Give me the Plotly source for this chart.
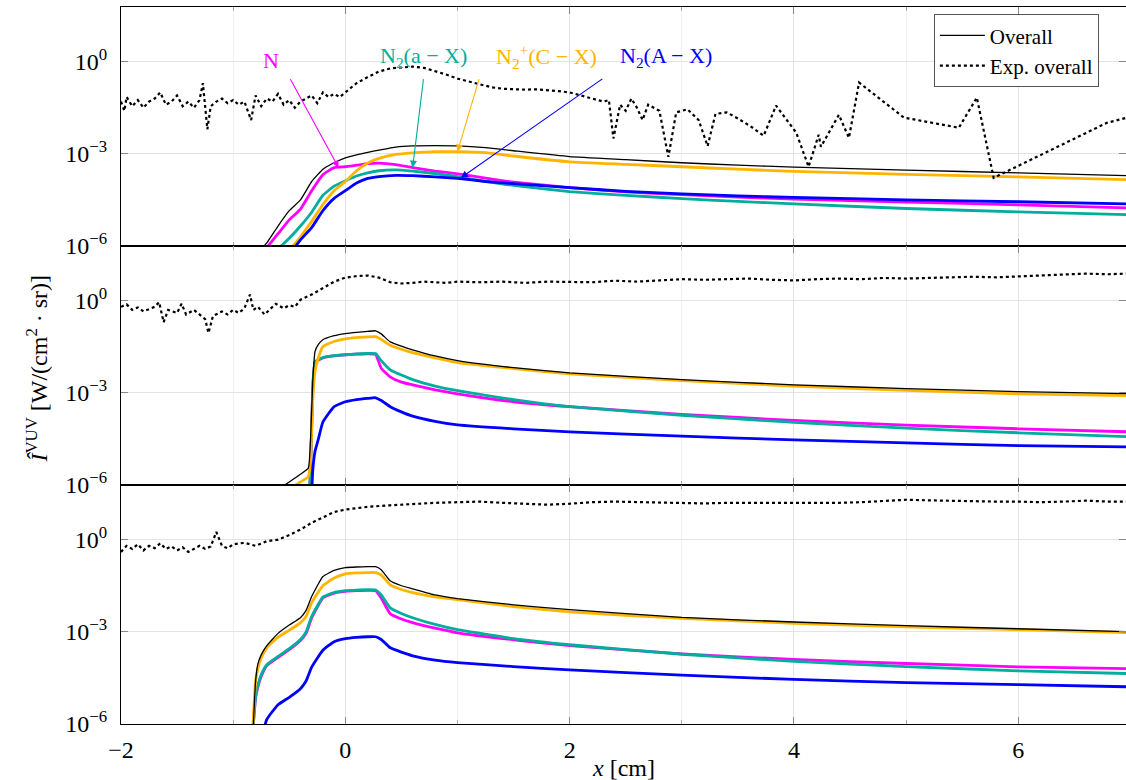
import plotly.graph_objects as go
from plotly.subplots import make_subplots

# ---------------- data (stored as log10 of intensity) -------------
# Top panel
x_top = [-0.8, -0.7, -0.6, -0.5, -0.4, -0.3, -0.2, -0.1, 0.0, 0.1, 0.2, 0.3, 0.45, 0.6, 0.8,
         1.0, 1.25, 1.5, 2.0, 2.5, 3.0, 3.5, 4.0, 5.0, 6.0, 7.0]
top_overall = [-6.3, -5.9, -5.35, -4.85, -4.5, -3.9, -3.5, -3.29, -3.13, -3.03, -2.95, -2.88, -2.78,
               -2.74, -2.73, -2.74, -2.8, -2.9, -3.09, -3.19, -3.29, -3.37, -3.43, -3.53, -3.62, -3.71]
top_N = [-6.5, -6.05, -5.6, -5.15, -4.8, -4.2, -3.68, -3.45, -3.42, -3.37, -3.32, -3.3, -3.35,
         -3.45, -3.56, -3.65, -3.79, -3.92, -4.1, -4.24, -4.33, -4.41, -4.47, -4.57, -4.66, -4.76]
top_N2aX = [None, None, -6.1, -5.75, -5.35, -4.9, -4.35, -4.05, -3.88, -3.72, -3.62, -3.55, -3.52,
            -3.56, -3.64, -3.74, -3.9, -4.03, -4.23, -4.35, -4.46, -4.55, -4.63, -4.78, -4.89, -4.98]
top_N2pCX = [None, None, -6.6, -6.15, -5.7, -5.2, -4.65, -4.2, -3.9, -3.55, -3.3, -3.15, -3.02,
             -2.97, -2.93, -2.93, -2.96, -3.07, -3.26, -3.34, -3.42, -3.5, -3.57, -3.67, -3.75, -3.84]
top_N2AX = [None, None, None, -6.3, -5.8, -5.4, -4.85, -4.45, -4.2, -3.95, -3.8, -3.74, -3.7,
            -3.71, -3.75, -3.8, -3.9, -3.97, -4.1, -4.22, -4.3, -4.37, -4.42, -4.5, -4.56, -4.63]
top_exp_x = [-2.0, -1.97, -1.95, -1.9, -1.85, -1.8, -1.75, -1.7, -1.65, -1.6, -1.55, -1.5, -1.45,
             -1.4, -1.35, -1.3, -1.27, -1.23, -1.2, -1.15, -1.1, -1.05, -1.0, -0.95, -0.9, -0.84,
             -0.8, -0.75, -0.7, -0.65, -0.6, -0.55, -0.5, -0.45, -0.4, -0.35, -0.3, -0.25, -0.2,
             -0.15, -0.1, -0.05, 0.0, 0.1, 0.2, 0.3, 0.4, 0.5, 0.6, 0.7, 0.8, 0.9, 1.0, 1.1, 1.2,
             1.3, 1.4, 1.5, 1.6, 1.7, 1.8, 1.9, 2.0, 2.1, 2.2, 2.3, 2.35, 2.39, 2.45, 2.5, 2.55,
             2.6, 2.65, 2.7, 2.8, 2.88, 2.95, 3.05, 3.15, 3.23, 3.3, 3.4, 3.5, 3.62, 3.73, 3.84,
             4.02, 4.13, 4.22, 4.24, 4.4, 4.49, 4.58, 4.98, 5.47, 5.63, 5.78, 6.79, 6.97]
top_exp = [-1.3, -1.6, -1.15, -1.45, -1.25, -1.5, -1.3, -1.2, -1.0, -1.4, -1.3, -1.1, -1.45,
           -1.3, -1.5, -1.25, -0.7, -2.2, -1.45, -1.3, -1.2, -1.35, -1.25, -1.4, -1.3, -1.9,
           -1.1, -1.45, -1.2, -1.3, -1.05, -1.4, -1.25, -1.5, -1.3, -1.2, -1.1, -1.35, -1.0,
           -1.15, -1.05, -1.15, -1.0, -0.7, -0.5, -0.32, -0.22, -0.18, -0.16, -0.2, -0.3, -0.42,
           -0.55, -0.65, -0.75, -0.83, -0.88, -0.9, -0.91, -0.9, -0.92, -0.96, -1.0, -1.1, -1.2,
           -1.3, -1.25, -2.5, -1.4, -1.6, -1.2, -1.5, -1.9, -1.4, -1.6, -3.1, -1.65, -1.55, -1.9,
           -2.75, -1.7, -1.65, -1.85, -2.12, -2.41, -1.43, -2.31, -3.42, -2.38, -2.77, -1.73,
           -2.48, -0.68, -1.82, -2.15, -1.17, -3.78, -1.99, -1.82]

# Middle panel
x_mid = [-0.6, -0.5, -0.4, -0.33, -0.31, -0.29, -0.27, -0.24, -0.2, -0.1, 0.0, 0.1, 0.2, 0.27,
         0.32, 0.4, 0.5, 0.6, 0.8, 1.0, 1.5, 2.0, 3.0, 4.0, 5.0, 6.0, 7.0]
mid_overall = [-6.15, -5.9, -5.65, -5.45, -4.5, -2.6, -1.65, -1.42, -1.27, -1.14, -1.07, -1.03,
               -1.0, -0.98, -1.08, -1.34, -1.48, -1.6, -1.8, -1.95, -2.18, -2.35, -2.57, -2.74,
               -2.86, -2.96, -3.03]
mid_N = [None, None, None, -7.0, -5.5, -2.8, -2.0, -1.93, -1.86, -1.8, -1.76, -1.74, -1.73,
         -1.75, -2.2, -2.48, -2.65, -2.74, -2.9, -3.03, -3.29, -3.45, -3.7, -3.9, -4.05,
         -4.17, -4.27]
mid_N2aX = [None, None, None, -7.0, -5.5, -2.75, -1.98, -1.92, -1.85, -1.79, -1.76, -1.73,
            -1.72, -1.72, -1.95, -2.25, -2.42, -2.57, -2.78, -2.93, -3.22, -3.45, -3.73, -3.96,
            -4.15, -4.3, -4.43]
mid_N2pCX = [None, -6.15, -5.9, -5.73, -5.2, -3.2, -2.3, -1.85, -1.5, -1.33, -1.24, -1.2, -1.18,
             -1.17, -1.26, -1.45, -1.58, -1.69, -1.86, -2.02, -2.21, -2.38, -2.6, -2.78, -2.92,
             -3.03, -3.09]
mid_N2AX = [None, None, None, -7.5, -7.0, -5.5, -4.9, -4.5, -3.95, -3.45, -3.29, -3.22, -3.18,
            -3.16, -3.25, -3.45, -3.62, -3.76, -3.93, -4.04, -4.17, -4.27, -4.41, -4.53, -4.63,
            -4.72, -4.76]
mid_exp_x = [-2.0, -1.95, -1.9, -1.85, -1.8, -1.75, -1.7, -1.66, -1.62, -1.58, -1.5, -1.46,
             -1.42, -1.35, -1.3, -1.25, -1.22, -1.18, -1.1, -1.05, -1.0, -0.95, -0.9, -0.85,
             -0.82, -0.78, -0.72, -0.68, -0.62, -0.55, -0.5, -0.45, -0.4, -0.3, -0.2, -0.1, 0.0,
             0.1, 0.2, 0.3, 0.4, 0.5, 0.6, 0.7, 0.8, 0.9, 1.0, 1.2, 1.4, 1.6, 1.8, 2.0, 2.2, 2.4,
             2.6, 2.8, 3.0, 3.2, 3.4, 3.6, 3.8, 4.0, 4.2, 4.4, 4.6, 4.8, 5.0, 5.2, 5.4, 5.6, 5.8,
             6.0, 6.2, 6.4, 6.6, 6.8, 6.96]
mid_exp = [-0.2, -0.12, -0.3, -0.22, -0.35, -0.28, -0.2, -0.05, -0.7, -0.3, -0.4, -0.1, -0.45,
           -0.3, -0.45, -0.6, -1.05, -0.5, -0.35, -0.45, -0.3, -0.4, -0.25, 0.2, -0.3, -0.2,
           -0.45, -0.3, -0.1, -0.25, -0.15, -0.2, 0.03, 0.2, 0.42, 0.62, 0.75, 0.8, 0.82, 0.75,
           0.6, 0.56, 0.58, 0.62, 0.6, 0.58, 0.62, 0.6, 0.62, 0.58, 0.62, 0.62, 0.6, 0.65, 0.62,
           0.66, 0.7, 0.68, 0.7, 0.72, 0.68, 0.66, 0.7, 0.72, 0.7, 0.74, 0.72, 0.74, 0.75, 0.78,
           0.76, 0.78, 0.82, 0.85, 0.88, 0.86, 0.88]

# Bottom panel
x_bot = [-0.85, -0.82, -0.8, -0.78, -0.75, -0.7, -0.6, -0.5, -0.4, -0.35, -0.3, -0.2, -0.1,
         0.0, 0.1, 0.2, 0.27, 0.32, 0.4, 0.5, 0.6, 0.8, 1.0, 1.5, 2.0, 3.0, 4.0, 5.0, 6.0, 7.0]
bot_overall = [-7.5, -6.0, -4.6, -4.05, -3.75, -3.45, -3.05, -2.78, -2.54, -2.3, -1.85, -1.2,
               -1.0, -0.91, -0.89, -0.88, -0.88, -0.98, -1.34, -1.5, -1.6, -1.8, -1.92, -2.12,
               -2.28, -2.53, -2.68, -2.8, -2.9, -3.0]
bot_N = [-7.5, -6.0, -5.15, -4.8, -4.45, -4.1, -3.83, -3.58, -3.28, -3.05, -2.55, -1.9, -1.74,
         -1.68, -1.66, -1.65, -1.66, -1.9, -2.41, -2.58, -2.7, -2.88, -3.03, -3.26, -3.45,
         -3.72, -3.9, -4.03, -4.14, -4.2]
bot_N2aX = [-7.5, -6.0, -5.1, -4.75, -4.4, -4.07, -3.8, -3.55, -3.25, -3.0, -2.5, -1.87, -1.72,
            -1.66, -1.64, -1.63, -1.64, -1.8, -2.22, -2.4, -2.54, -2.76, -2.93, -3.22, -3.42,
            -3.73, -3.96, -4.13, -4.27, -4.36]
bot_N2pCX = [-7.5, -5.8, -4.6, -4.2, -3.85, -3.52, -3.17, -2.95, -2.7, -2.5, -2.05, -1.5, -1.25,
             -1.11, -1.08, -1.07, -1.07, -1.15, -1.47, -1.62, -1.72, -1.86, -1.95, -2.18, -2.35,
             -2.56, -2.72, -2.84, -2.93, -3.03]
bot_N2AX = [None, None, None, None, -6.5, -5.85, -5.37, -5.13, -4.85, -4.6, -4.15, -3.6, -3.32,
            -3.22, -3.18, -3.16, -3.16, -3.25, -3.52, -3.66, -3.78, -3.92, -4.0, -4.13, -4.24,
            -4.41, -4.55, -4.65, -4.72, -4.79]
bot_exp_x = [-2.0, -1.95, -1.9, -1.85, -1.8, -1.75, -1.7, -1.65, -1.6, -1.55, -1.5, -1.45, -1.4,
             -1.35, -1.3, -1.25, -1.2, -1.15, -1.1, -1.05, -1.0, -0.9, -0.8, -0.7, -0.6, -0.5,
             -0.4, -0.3, -0.2, -0.1, 0.0, 0.2, 0.4, 0.6, 0.8, 1.0, 1.2, 1.4, 1.6, 1.8, 2.0, 2.2,
             2.4, 2.6, 2.8, 3.0, 3.2, 3.4, 3.6, 3.8, 4.0, 4.2, 4.4, 4.6, 4.8, 5.0, 5.2, 5.4, 5.6,
             5.8, 6.0, 6.2, 6.4, 6.6, 6.8, 6.96]
bot_exp = [-0.4, -0.2, -0.3, -0.15, -0.35, -0.2, -0.28, -0.12, -0.3, -0.22, -0.35, -0.25, -0.4,
           -0.3, -0.2, -0.3, -0.22, 0.25, -0.2, -0.28, -0.15, -0.1, -0.2, -0.05, 0.0, 0.15, 0.33,
           0.55, 0.72, 0.9, 0.98, 1.07, 1.12, 1.17, 1.2, 1.22, 1.24, 1.2, 1.16, 1.14, 1.17, 1.22,
           1.24, 1.22, 1.2, 1.2, 1.18, 1.2, 1.2, 1.18, 1.2, 1.18, 1.2, 1.22, 1.26, 1.3, 1.28,
           1.26, 1.24, 1.24, 1.24, 1.22, 1.24, 1.27, 1.24, 1.24]

y_tickvals = [1e-6, 1e-3, 1.0]
y_ticktext = ["10<sup>−6</sup>", "10<sup>−3</sup>", "10<sup>0</sup>"]

# ---------------- styling ----------------
SERIF = "Liberation Serif"
C_N = "#FF00FF"
C_AX_TEAL = "#00AE9E"
C_CX = "#FFB400"
C_AX = "#0000FF"


def lin(vals):
    return [None if v is None else 10.0 ** v for v in vals]


fig = make_subplots(rows=3, cols=1, shared_xaxes=True, vertical_spacing=0)

panels = [
    (1, x_top, top_N, top_N2aX, top_N2pCX, top_N2AX, top_overall, top_exp_x, top_exp),
    (2, x_mid, mid_N, mid_N2aX, mid_N2pCX, mid_N2AX, mid_overall, mid_exp_x, mid_exp),
    (3, x_bot, bot_N, bot_N2aX, bot_N2pCX, bot_N2AX, bot_overall, bot_exp_x, bot_exp),
]

for row, xs, n, ax_, cx, AX, ov, ex_x, ex in panels:
    for vals, col, nm in [(n, C_N, "N"), (ax_, C_AX_TEAL, "N2(a-X)"),
                          (cx, C_CX, "N2+(C-X)"), (AX, C_AX, "N2(A-X)")]:
        fig.add_trace(go.Scatter(x=xs, y=lin(vals), mode="lines", name=nm, showlegend=False,
                                 line=dict(color=col, width=2.8, shape="spline", smoothing=0.4)),
                      row=row, col=1)
    fig.add_trace(go.Scatter(x=xs, y=lin(ov), mode="lines", name="Overall",
                             showlegend=(row == 1),
                             line=dict(color="black", width=1.3, shape="spline", smoothing=0.4)),
                  row=row, col=1)
    fig.add_trace(go.Scatter(x=ex_x, y=lin(ex), mode="lines", name="Exp. overall",
                             showlegend=(row == 1),
                             line=dict(color="black", width=2.2, dash="dot")),
                  row=row, col=1)

axis_font = dict(family=SERIF, size=24, color="black")
for i in range(1, 4):
    fig.update_xaxes(row=i, col=1, range=[-2, 6.96], tick0=0, dtick=2,
                     ticks="inside", ticklen=7, tickcolor="#888", tickwidth=1,
                     showline=True, linecolor="black", linewidth=1.3, mirror="ticks",
                     showgrid=True, gridcolor="#e3e3e3", gridwidth=1, zeroline=False,
                     minor=dict(dtick=1, ticks="inside", ticklen=4, tickcolor="#aaa",
                                showgrid=True, gridcolor="#f0f0f0"),
                     tickfont=axis_font, ticklabelstandoff=4)
    fig.update_yaxes(row=i, col=1, type="log", range=[-6, 1.78],
                     tickvals=y_tickvals, ticktext=y_ticktext,
                     ticks="inside", ticklen=7, tickcolor="#888", tickwidth=1,
                     showline=True, linecolor="black", linewidth=1.3, mirror="ticks",
                     showgrid=True, gridcolor="#e3e3e3", zeroline=False,
                     tickfont=axis_font, ticklabelstandoff=8)

# labels with arrows in the top panel
labels = [
    ("N", C_N, -0.66, 0.03),
    ("N<sub>2</sub>(a − X)", C_AX_TEAL, 0.70, 0.16),
    ("N<sub>2</sub><sup>+</sup>(C − X)", C_CX, 1.79, 0.16),
    ("N<sub>2</sub>(A − X)", C_AX, 2.86, 0.16),
]
for txt, col, lx, ly in labels:
    fig.add_annotation(x=lx, y=ly, xref="x", yref="y", text=txt, showarrow=False,
                       font=dict(family=SERIF, size=22, color=col))

arrows = [  # head (x, log10 y), tail offset in px
    (C_N, -0.06, -3.45, -49, -90),
    (C_AX_TEAL, 0.60, -3.45, 11, -90),
    (C_CX, 1.00, -2.93, 22, -74),
    (C_AX, 1.03, -3.78, 143, -100),
]
for col, hx, hy, axp, ayp in arrows:
    fig.add_annotation(x=hx, y=hy, xref="x", yref="y", text="", showarrow=True,
                       ax=axp, ay=ayp, arrowhead=2, arrowsize=1.3, arrowwidth=1.1,
                       arrowcolor=col)

fig.add_annotation(xref="paper", yref="paper", x=-0.1, y=0.495, textangle=-90,
                   text="<i>Î</i><sup>VUV</sup> [W/(cm<sup>2</sup> · sr)]", showarrow=False,
                   font=dict(family=SERIF, size=24, color="black"))
fig.add_annotation(xref="paper", yref="paper", x=0.5, y=-0.061, yanchor="middle",
                   text="<i>x</i> [cm]", showarrow=False,
                   font=dict(family=SERIF, size=24, color="black"))

fig.update_layout(
    width=1126, height=780,
    margin=dict(l=121, r=0, t=7, b=56),
    paper_bgcolor="white", plot_bgcolor="white",
    font=dict(family=SERIF, color="black"),
    showlegend=True,
    legend=dict(x=0.973, xanchor="right", y=0.99, yanchor="top",
                bgcolor="white", bordercolor="#555", borderwidth=1,
                font=dict(family=SERIF, size=21, color="black"),
                itemwidth=45, tracegroupgap=0),
)

fig.write_html("out.html")
